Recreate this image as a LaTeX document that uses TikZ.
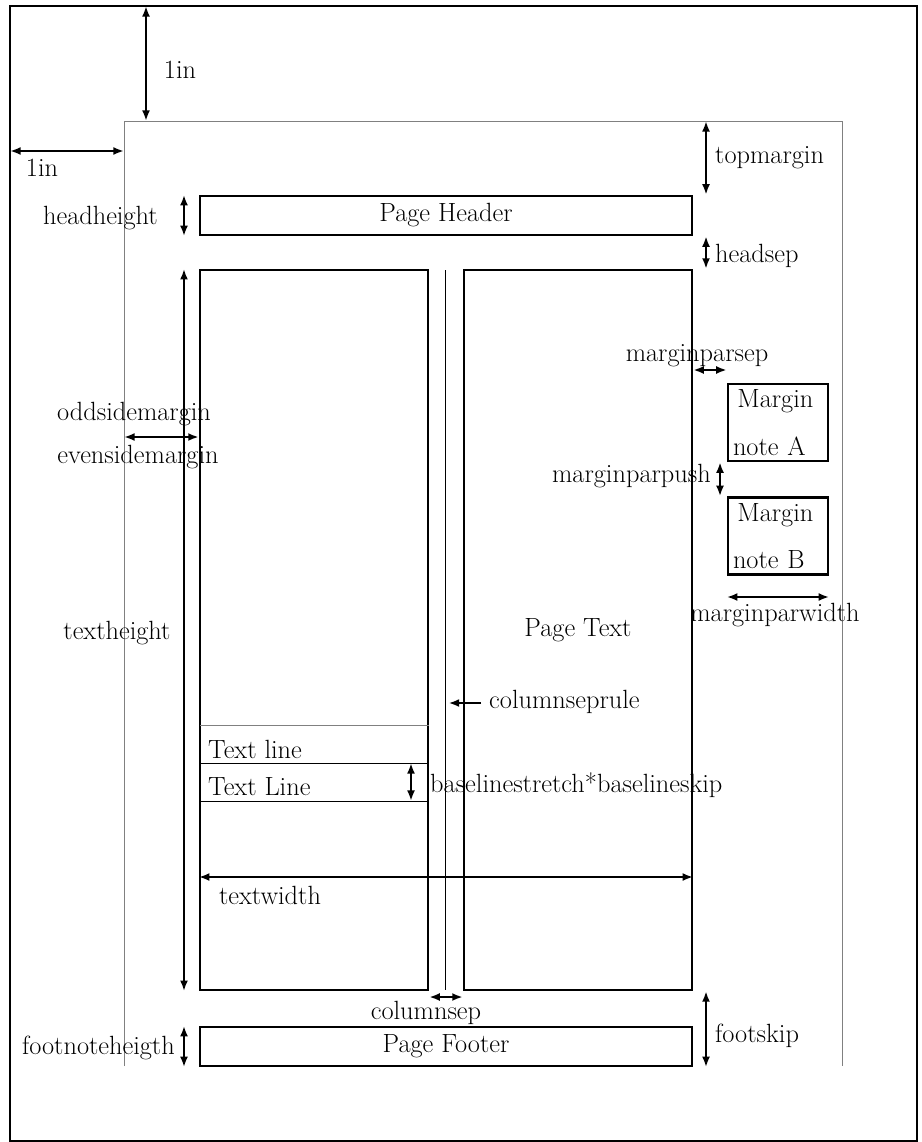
\documentclass[tikz,border=0pt]{standalone}
\usetikzlibrary{arrows.meta}

\tikzset{
  box/.style={rectangle, draw, line width=1.4pt, inner sep=0pt},
  note/.style={box, minimum width=2cm, minimum height=1.54cm, text width=1.8cm, inner sep=0.06cm, align=left},
  dim/.style={{Latex[length=6pt,width=4.5pt]}-{Latex[length=6pt,width=4.5pt]}, line width=1.4pt},
  thinline/.style={draw, line width=0.5pt},
}

\begin{document}
\begin{tikzpicture}[x=0.02cm, y=-0.02cm, font=\fontsize{15}{18}\selectfont]

\useasboundingbox (0,0) rectangle (921,1142);

% paper and page outline
\draw[line width=1.4pt] (10,6) rectangle (917,1141);
\coordinate (pageNW) at (124,121);
\coordinate (pageNE) at (842,121);
\coordinate (pageSW) at (124,1066);
\coordinate (pageSE) at (842,1066);
\draw[thinline, gray] (pageSW) -- (pageNW) -- (pageNE) -- (pageSE);

% boxes
\node (header) [box, minimum width=9.84cm, minimum height=0.78cm] at (446,215.5) {Page Header};
\node (colL) [box, minimum width=4.56cm, minimum height=14.4cm] at (314,630) {};
\node (colR) [box, minimum width=4.56cm, minimum height=14.4cm] at (578,630) {Page Text};
\node (footer) [box, minimum width=9.84cm, minimum height=0.78cm] at (446,1046.5) {Page Footer};
\node (noteA) [note] at (778,422.5) {\,Margin\\[9pt]note A};
\node (noteB) [note] at (778,536) {\,Margin\\[9pt]note B};

% column rule
\coordinate (ruletop) at (445,270);
\draw[thinline] (ruletop) -- (445,990);

% text lines
\coordinate (line1) at (200,725);
\coordinate (line2) at (200,763);
\coordinate (line3) at (200,801);
\draw[thinline, gray] (line1) -- (line1 -| colL.east);
\draw[thinline] (line2) -- (line2 -| colL.east);
\draw[thinline] (line3) -- (line3 -| colL.east);
\node (tl1) [anchor=west] at (202,749) {Text line};
\node (tl2) [anchor=west] at (202,787) {Text Line};

% 1in
\coordinate (topin) at (146,6);
\draw[dim] (topin) -- (topin |- pageNW);
\node (topinlbl) at (180,70) {1in};
\coordinate (leftin) at (10,151);
\draw[dim] (leftin) -- (leftin -| pageNW);
\node (leftinlbl) at (42,168) {1in};

% left side
\coordinate (lm) at (184,0);
\draw[dim] (header.north west -| lm) -- (header.south west -| lm);
\node (hhlbl) [anchor=east] at (164,218) {headheight};
\draw[dim] (colL.north west -| lm) -- (colL.south west -| lm);
\node (thlbl) at (117,633) {textheight};
\draw[dim] (footer.north west -| lm) -- (footer.south west -| lm);
\node (fnlbl) [anchor=east] at (181,1048) {footnoteheigth};

\coordinate (osm) at (0,437);
\draw[dim] (pageNW |- osm) -- (colL.west |- osm);
\node (osmlbl) at (134,414) {oddsidemargin};
\node (esmlbl) at (138,457) {evensidemargin};

% right side
\coordinate (rm) at (706,0);
\draw[dim] (pageNE -| rm) -- (header.north east -| rm);
\node (tmlbl) [anchor=west] at (709,158) {topmargin};
\draw[dim] (header.south east -| rm) -- (colR.north east -| rm);
\node (hslbl) [anchor=west] at (709,256) {headsep};
\draw[dim] (colR.south east -| rm) -- (footer.south east -| rm);
\node (fslbl) [anchor=west] at (709,1036) {footskip};

% margin notes
\coordinate (mps) at (0,370);
\draw[dim] (colR.east |- mps) -- (noteA.west |- mps);
\node (mpslbl) at (697,356) {marginparsep};
\coordinate (mpp) at (720,0);
\draw[dim] (noteA.south -| mpp) -- (noteB.north -| mpp);
\node (mpplbl) [anchor=east] at (717,476) {marginparpush};
\coordinate (mpw) at (0,597);
\draw[dim] (noteB.west |- mpw) -- (noteB.east |- mpw);
\node (mpwlbl) at (775,615) {marginparwidth};

% columns
\coordinate (csr) at (481,703);
\draw[-{Latex[length=6pt,width=4.5pt]}, line width=1.4pt, shorten >=2pt] (csr) -- (csr -| ruletop);
\node (csrlbl) [anchor=west] at (483,702) {columnseprule};
\coordinate (bsk) at (411,0);
\draw[dim] (line2 -| bsk) -- (line3 -| bsk);
\node (bsklbl) [anchor=west] at (424,785) {baselinestretch*baselineskip};
\coordinate (tw) at (0,877);
\draw[dim] (colL.west |- tw) -- (colR.east |- tw);
\node (twlbl) at (270,895) {textwidth};
\coordinate (cs) at (0,997);
\draw[dim] (colL.east |- cs) -- (colR.west |- cs);
\node (cslbl) at (426,1013) {columnsep};

\end{tikzpicture}
\end{document}
